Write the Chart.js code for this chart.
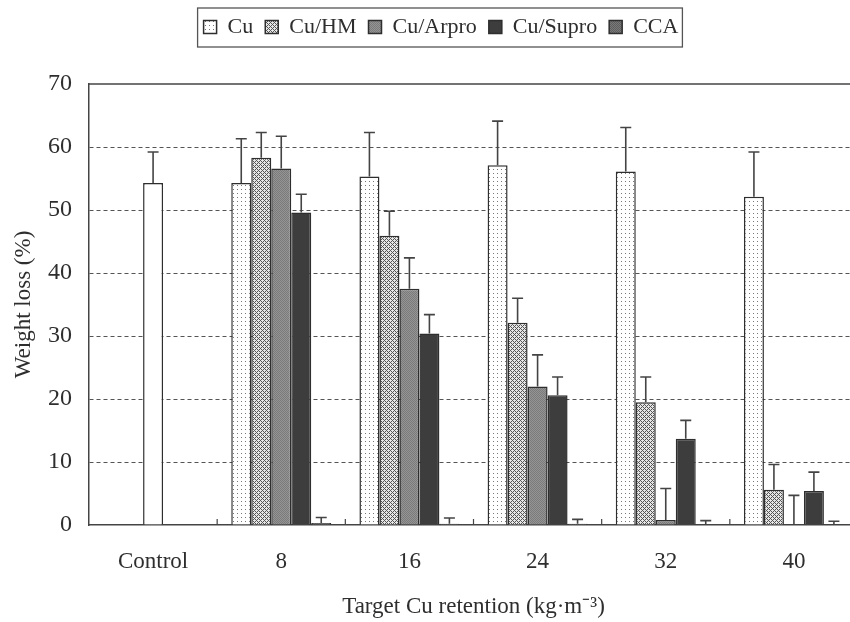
<!DOCTYPE html>
<html>
<head>
<meta charset="utf-8">
<script src="https://cdn.jsdelivr.net/npm/chart.js@4.4.1/dist/chart.umd.min.js"></script>
<style>
  html, body { margin: 0; padding: 0; background: #fff; overflow: hidden; }
  #wrap { width: 858px; height: 622px; }
</style>
</head>
<body>
<div id="wrap"><canvas id="chart" width="858" height="622"></canvas></div>
<script>
// data (weight loss %, mean and SD)
const categories = ['Control', '8', '16', '24', '32', '40'];
const seriesNames = ['Cu', 'Cu/HM', 'Cu/Arpro', 'Cu/Supro', 'CCA'];

const controlMean = [54.3, null, null, null, null, null];
const controlSd   = [4.9, null, null, null, null, null];
const cuMean    = [null, 54.3, 55.3, 57.1, 56.1, 52.1];
const cuSd      = [null, 7.0, 7.0, 7.0, 7.0, 7.1];
const hmMean    = [null, 58.3, 45.9, 32.1, 19.5, 5.6];
const hmSd      = [null, 4.0, 3.9, 3.9, 4.0, 4.0];
const arproMean = [null, 56.6, 37.5, 22.0, 0.8, 0.1];
const arproSd   = [null, 5.1, 4.9, 5.0, 5.0, 4.6];
const suproMean = [null, 49.6, 30.4, 20.6, 13.7, 5.4];
const suproSd   = [null, 2.9, 3.0, 2.9, 2.9, 3.0];
const ccaMean   = [null, 0.3, 0.2, 0.2, 0.1, 0.1];
const ccaSd     = [null, 0.9, 0.9, 0.7, 0.6, 0.5];

const yMin = 0, yMax = 70, yStep = 10;

const FONT = "'Liberation Serif', 'Times New Roman', serif";
const INK = '#2e2e2e';

// small tiles used as bar fills
function makePattern(size, bg, dots) {
  const c = document.createElement('canvas');
  c.width = size; c.height = size;
  const g = c.getContext('2d');
  g.fillStyle = bg;
  g.fillRect(0, 0, size, size);
  dots.forEach(([x, y, col]) => {
    g.fillStyle = col;
    g.fillRect(x, y, 1, 1);
  });
  return g.createPattern(c, 'repeat');
}

const ctx = document.getElementById('chart').getContext('2d');

const fillCu = makePattern(4, '#fff', [[1, 1, '#777']]);
const fillHm = makePattern(4, '#e6e6e6', [[0, 0, '#555'], [1, 1, '#555'], [2, 2, '#555'], [3, 3, '#555'], [1, 3, '#555'], [3, 1, '#555']]);
const fillArpro = makePattern(2, '#959595', [[0, 0, '#7a7a7a'], [1, 1, '#7a7a7a']]);
const fillSupro = '#3d3d3d';
const fillCca = makePattern(2, '#7a7a7a', [[0, 0, '#5e5e5e'], [1, 1, '#5e5e5e']]);

const errors = [cuSd, hmSd, arproSd, suproSd, ccaSd, controlSd];

const errorBars = {
  id: 'errorBars',
  afterDatasetsDraw(chart) {
    const c = chart.ctx;
    const y = chart.scales.y;
    chart.data.datasets.forEach((ds, di) => {
      const meta = chart.getDatasetMeta(di);
      meta.data.forEach((bar, i) => {
        const v = ds.data[i];
        const sd = errors[di][i];
        if (v == null || sd == null) return;
        const top = y.getPixelForValue(v + sd);
        c.save();
        c.strokeStyle = '#444';
        c.lineWidth = 1.6;
        c.beginPath();
        c.moveTo(bar.x, bar.y);
        c.lineTo(bar.x, top);
        c.moveTo(bar.x - 5.5, top);
        c.lineTo(bar.x + 5.5, top);
        c.stroke();
        c.restore();
      });
    });
  }
};

const frame = {
  id: 'frame',
  afterLayout(chart) {
    // nudge the legend to where it sits in the figure
    const lg = chart.legend;
    lg.left += 12; lg.right += 12;
    const dy = lg.top - 4;
    lg.top -= dy; lg.bottom -= dy;
  },
  afterDraw(chart) {
    const c = chart.ctx;
    const a = chart.chartArea;
    const x = chart.scales.x;
    c.save();
    c.strokeStyle = '#444';
    c.lineWidth = 1.5;
    // top border of the plot
    c.beginPath();
    c.moveTo(a.left, a.top);
    c.lineTo(a.right, a.top);
    c.stroke();
    // small inward ticks between groups
    c.lineWidth = 1.2;
    for (let i = 1; i < categories.length; i++) {
      const px = (x.getPixelForValue(i - 1) + x.getPixelForValue(i)) / 2;
      c.beginPath();
      c.moveTo(px, a.bottom);
      c.lineTo(px, a.bottom - 6);
      c.stroke();
    }
    // box round the legend
    const lg = chart.legend;
    const pad = lg.options.labels.padding;
    const rowW = lg.lineWidths[0] - pad;
    const startX = (lg.left + pad + lg.right - lg.lineWidths[0]) / 2;
    c.strokeStyle = '#555';
    c.lineWidth = 1.3;
    c.strokeRect(startX - 6, 8, rowW + 10, 39);
    c.restore();
  }
};

function barSet(label, data, bg, extra) {
  return Object.assign({
    label: label,
    data: data,
    backgroundColor: bg,
    borderColor: INK,
    borderWidth: 1.5,
    borderSkipped: 'bottom',
    categoryPercentage: 0.78,
    barPercentage: 1.0,
    skipNull: true,
  }, extra || {});
}

new Chart(ctx, {
  type: 'bar',
  data: {
    labels: categories,
    datasets: [
      barSet(seriesNames[0], cuMean, fillCu),
      barSet(seriesNames[1], hmMean, fillHm),
      barSet(seriesNames[2], arproMean, fillArpro),
      barSet(seriesNames[3], suproMean, fillSupro),
      barSet(seriesNames[4], ccaMean, fillCca),
      barSet('Control', controlMean, '#fff', { barPercentage: 0.2 }),
    ],
  },
  options: {
    responsive: false,
    animation: false,
    devicePixelRatio: 1,
    layout: { padding: { top: 40, left: 0, right: 0, bottom: 0 } },
    plugins: {
      legend: {
        position: 'top',
        labels: {
          font: { family: FONT, size: 22 },
          color: INK,
          boxWidth: 13,
          boxHeight: 13,
          padding: 12,
          filter: (item) => item.text !== 'Control',
        },
      },
      tooltip: { enabled: false },
    },
    scales: {
      x: {
        grid: { drawOnChartArea: false, drawTicks: false },
        border: { display: true, color: '#444', width: 1.5 },
        ticks: {
          font: { family: FONT, size: 23 },
          color: INK,
          padding: 23,
        },
        title: {
          display: true,
          text: 'Target Cu retention (kg·m⁻³)',
          font: { family: FONT, size: 23 },
          color: INK,
          padding: { top: 18, bottom: 1 },
        },
        afterFit: (s) => { s.height = 97; },
      },
      y: {
        min: yMin,
        max: yMax,
        ticks: {
          stepSize: yStep,
          font: { family: FONT, size: 24 },
          color: INK,
          padding: 17,
        },
        grid: {
          drawTicks: false,
          lineWidth: 1,
          color: (c) => (c.tick && (c.tick.value === yMin || c.tick.value === yMax)) ? 'rgba(0,0,0,0)' : '#555',
        },
        border: { display: true, color: '#444', width: 1.5, dash: [4, 3] },
        title: {
          display: true,
          text: 'Weight loss (%)',
          font: { family: FONT, size: 23 },
          color: INK,
          padding: { top: 10, bottom: 0 },
        },
        afterFit: (s) => { s.width = 89; },
      },
    },
  },
  plugins: [errorBars, frame],
});
</script>
</body>
</html>
